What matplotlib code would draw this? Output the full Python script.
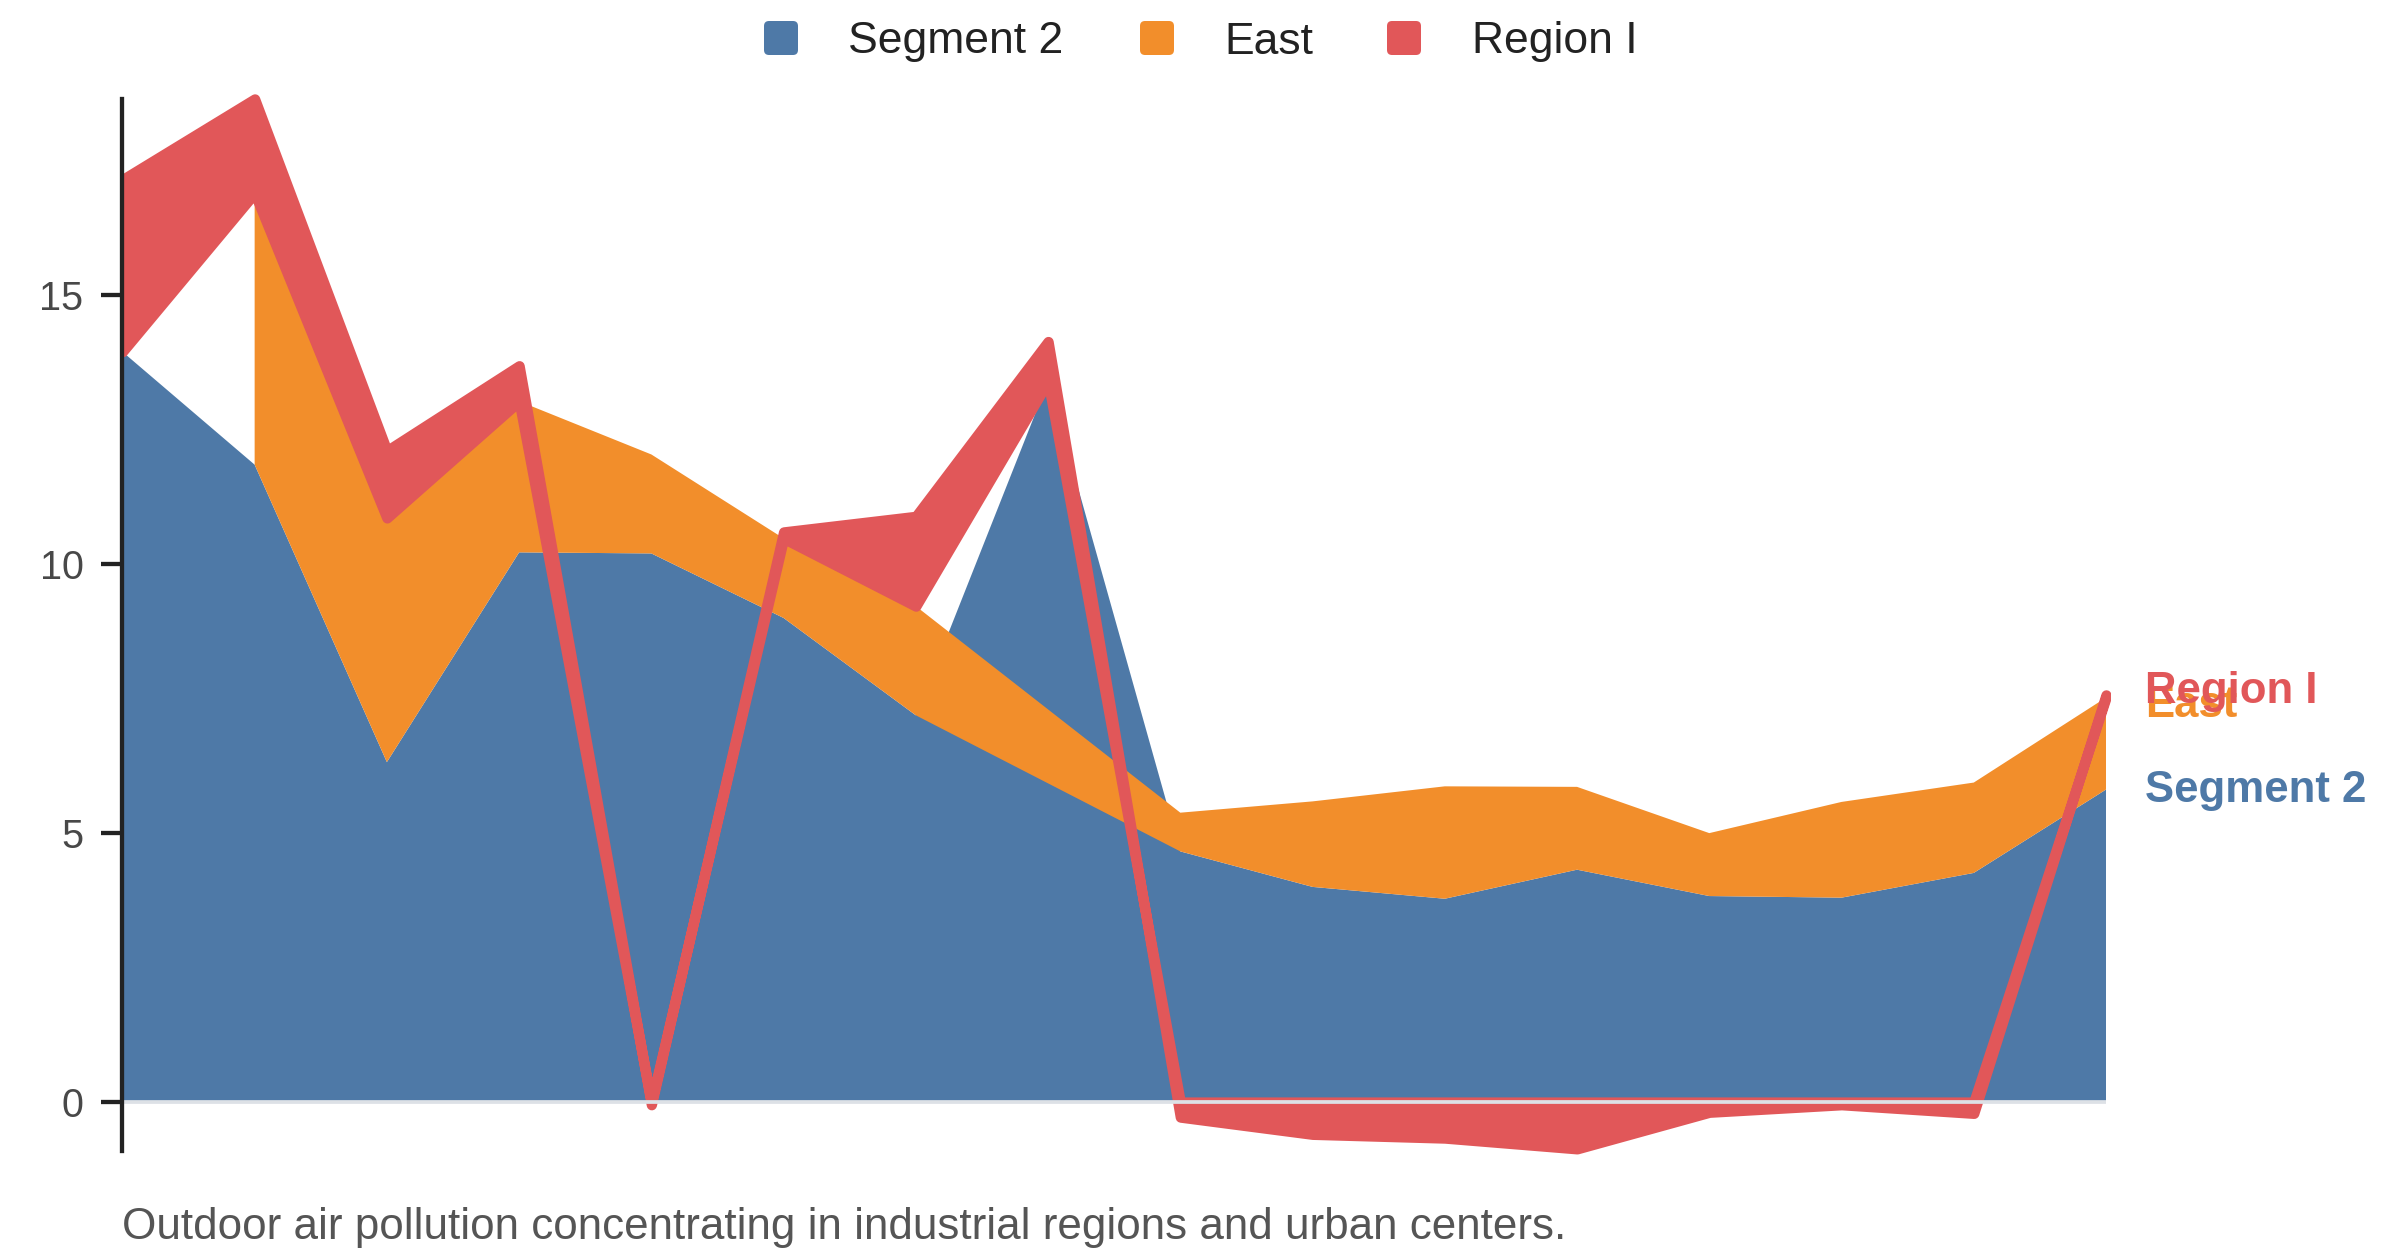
import matplotlib
matplotlib.use("Agg")
import matplotlib.pyplot as plt
from matplotlib.patches import Rectangle, FancyBboxPatch
from matplotlib.transforms import blended_transform_factory, IdentityTransform
import numpy as np

plt.rcParams['font.family'] = ['Liberation Sans', 'DejaVu Sans']

# data (None = no row for that point)
series = ["Segment 2", "East", "Region I"]
colors = ["#4e79a7", "#f28e2b", "#e15759"]
x = list(range(16))
segment2 = [13.95, 11.85, 6.32, 10.22, 10.20, 9.00, 7.19, 13.40,
            4.66, 4.00, 3.78, 4.32, 3.83, 3.80, 4.26, 5.81]
east = [None, 5.05, 4.54, 2.81, 1.84, 1.48, 2.03, None,
        0.72, 1.59, 2.09, 1.54, 1.17, 1.78, 1.68, 1.71]
region1 = [3.20, 1.75, 1.25, 0.66, -0.05, 0.12, 1.67, 0.74,
           -0.28, -0.60, -0.67, -0.87, -0.19, -0.05, -0.21, 0.05]
caption = "Outdoor air pollution concentrating in industrial regions and urban centers."

# stack: positives up from zero, negatives down from zero, missing rows skipped
pos = np.zeros(len(x))
neg = np.zeros(len(x))
bands = []
for vals in [segment2, east, region1]:
    xs, lo, hi = [], [], []
    for i, v in zip(x, vals):
        if v is None:
            continue
        if v >= 0:
            y0 = pos[i]
            pos[i] += v
            y1 = pos[i]
        else:
            y0 = neg[i]
            neg[i] += v
            y1 = neg[i]
        xs.append(i)
        lo.append(y0)
        hi.append(y1)
    bands.append((xs, lo, hi))

fig = plt.figure(figsize=(24, 12.56), dpi=100)
ax = fig.add_axes([0.0510, 0.0836, 0.8265, 0.8372])

clip = Rectangle((0, -0.5), 15.03, 2,
                 transform=blended_transform_factory(ax.transData, ax.transAxes))

for k, (xs, lo, hi) in enumerate(bands):
    if series[k] == "Region I":
        coll = ax.fill_between(xs, lo, hi, facecolor=colors[k], edgecolor=colors[k],
                               linewidth=7.4, zorder=3 + k)
        coll.set_joinstyle('round')
        coll.set_clip_path(clip)
    else:
        ax.fill_between(xs, lo, hi, facecolor=colors[k], linewidth=0, zorder=3 + k)

ax.hlines(0, x[0], x[-1], color='#dde1e6', linewidth=2.7, zorder=10)

ax.set_xlim(x[0], x[-1])
ax.set_ylim(-0.91, 18.64)
ax.set_xticks([])
ax.set_yticks([0, 5, 10, 15])
for s in ['top', 'right', 'bottom']:
    ax.spines[s].set_visible(False)
ax.spines['left'].set_color('#222222')
ax.spines['left'].set_linewidth(3.1)
ax.spines['left'].set_zorder(12)
ax.tick_params(axis='y', length=15, width=3.1, pad=13, labelsize=28.5,
               color='#222222', labelcolor='#484848')

# end-of-series labels
nudge = {"Segment 2": -8.9, "East": -14, "Region I": -5.8}
for k, (xs, lo, hi) in enumerate(bands):
    ax.annotate(series[k], xy=(xs[-1], hi[-1]), xytext=(28, nudge[series[k]]),
                textcoords='offset points', ha='left', va='baseline',
                fontsize=31.5, fontweight='bold', color=colors[k],
                annotation_clip=False, zorder=20 + k)

# legend on top
sq_left = [764, 1140, 1387]
txt_left = [848, 1224, 1472]
for k, name in enumerate(series):
    box = FancyBboxPatch((sq_left[k], 1256 - 55), 34, 34,
                         boxstyle='round,pad=0,rounding_size=5',
                         facecolor=colors[k], edgecolor='none',
                         transform=IdentityTransform())
    fig.add_artist(box)
    fig.text(txt_left[k] / 2400, (1256 - 53.5) / 1256, name, fontsize=32,
             color='#222222', ha='left', va='baseline')

fig.text(122 / 2400, 17.5 / 1256, caption, fontsize=31.7, color='#555555',
         ha='left', va='baseline')

fig.savefig('out.png', dpi=100)
